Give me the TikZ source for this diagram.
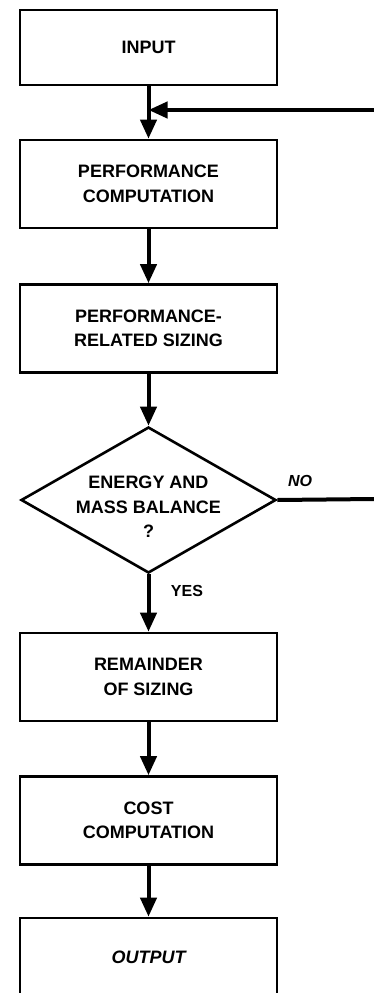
\documentclass[tikz,border=0pt]{standalone}
\usepackage{fontspec}
\setmainfont{Liberation Sans}
\usepackage{tikz}
\usetikzlibrary{arrows.meta,shapes.geometric}

\tikzset{
	stepbox/.style={draw, line width=2.6pt, minimum width=257pt, minimum height=88pt, inner sep=0pt},
	flow/.style={line width=4pt, -{Triangle[length=19pt,width=16pt]}},
	lbl/.style={font=\fontsize{18}{24.5}\selectfont\bfseries, align=center, inner sep=0pt}
}

\begin{document}
\begin{tikzpicture}[x=1pt,y=-1pt]
	\newcommand\bxx{148.5}
	
	\useasboundingbox (0,0) rectangle (374,993);
	\clip (0,0) rectangle (374,993);
	
	\node[stepbox, minimum height=75pt] (inp) at (\bxx,47.5) {};
	\node[lbl] at (inp) {INPUT};
	
	\node[stepbox] (perf) at (\bxx,184) {};
	\node[lbl] at (perf) {PERFORMANCE\\COMPUTATION};
	
	\node[stepbox] (size) at (\bxx,328.5) {};
	\node[lbl] at (size) {PERFORMANCE-\\RELATED SIZING};
	
	\node[draw, diamond, line width=2.6pt, inner sep=0pt, minimum width=255pt, minimum height=146pt] (bal) at (\bxx,500) {};
	\node[lbl] at ([yshift=-7pt]bal) {ENERGY AND\\MASS BALANCE\\?};
	
	\node[stepbox] (rest) at (\bxx,677) {};
	\node[lbl] at (rest) {REMAINDER\\OF SIZING};
	
	\node[stepbox] (cost) at (\bxx,820.5) {};
	\node[lbl] at (cost) {COST\\COMPUTATION};
	
	\node[stepbox] (outp) at (\bxx,962) {};
	\node[lbl, font=\fontsize{18}{24}\selectfont\bfseries\itshape] at ([yshift=5pt]outp) {OUTPUT};
	
	\coordinate (back) at (374,110);
	\coordinate (join) at (\bxx,110);
	\coordinate (noend) at (374,499);
	
	\draw[flow] (inp) -- (perf);
	\draw[flow] (back) -- (join);
	\draw[flow] (perf) -- (size);
	\draw[flow] (size) -- (bal);
	\draw[flow] (bal) -- (rest);
	\draw[flow] (rest) -- (cost);
	\draw[flow] (cost) -- (outp);
	\draw[line width=4pt] (bal.east) -- (noend);
	
	\node[lbl, font=\fontsize{16}{18}\selectfont\bfseries\itshape] (no) at (300,481) {NO};
	\node[lbl, font=\fontsize{16}{18}\selectfont\bfseries] (yes) at (187,591) {YES};
	
\end{tikzpicture}
\end{document}
